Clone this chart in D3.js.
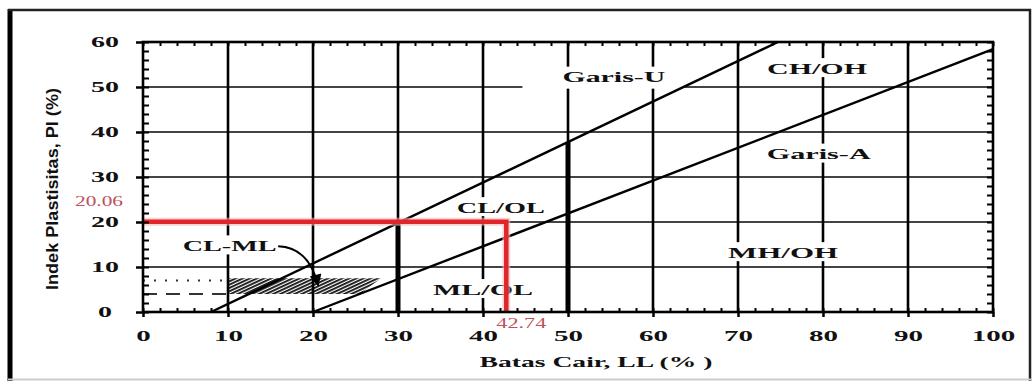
<!DOCTYPE html>
<html>
<head>
<meta charset="utf-8">
<script src="https://cdn.jsdelivr.net/npm/d3@7.9.0/dist/d3.min.js"></script>
<style>
  html, body { margin: 0; padding: 0; background: #fff; }
  svg { display: block; }
  .tick line { stroke: #000; }
  .zone { font-family: "Liberation Serif", "Times New Roman", serif; font-weight: bold; font-size: 15px; fill: #111; }
</style>
</head>
<body>
<svg id="chart" width="1033" height="381"></svg>
<script>
// axis ticks
const llTicks = [0, 10, 20, 30, 40, 50, 60, 70, 80, 90, 100];
const piTicks = [0, 10, 20, 30, 40, 50, 60];
const llMinor = d3.range(0, 101, 2);
const piMinor = d3.range(0, 61, 2);

// Garis-U and Garis-A (end points)
const uLine = [[8, 0], [74.7, 60]];
const aLine = [[20, 0], [100, 58.4]];

// CL-ML zone
const clmlZone = [[10, 4], [10, 7.5], [28, 7.5], [25.5, 4]];
const dottedLine = [[0, 7], [10, 7]];
const dashedLine = [[0, 4], [10, 4]];

// thick boundary segments at LL = 30 and LL = 50
const boundaries = [[[30, 0], [30, 20]], [[50, 0], [50, 37.8]]];

// sample result
const sampleLL = 42.74;
const samplePI = 20.06;

// zone labels: text, LL, PI of label centre, width in px
const zoneLabels = [
  { text: "Garis-U", ll: 55.4, pi: 52.3, w: 103 },
  { text: "CH/OH", ll: 79.3, pi: 54.2, w: 100 },
  { text: "Garis-A", ll: 79.5, pi: 35.2, w: 104 },
  { text: "CL/OL", ll: 42.1, pi: 23.3, w: 88 },
  { text: "CL-ML", ll: 10.2, pi: 14.8, w: 94 },
  { text: "MH/OH", ll: 75.3, pi: 13.3, w: 110 },
  { text: "ML/OL", ll: 40.0, pi: 5.1, w: 100 }
];

const svg = d3.select("#chart");
const x = d3.scaleLinear().domain([0, 100]).range([143, 993]);
const y = d3.scaleLinear().domain([0, 60]).range([312, 42]);
const line = d3.line().x(d => x(d[0])).y(d => y(d[1]));

// outer frame
svg.append("line").attr("x1", 10).attr("x2", 10).attr("y1", 9).attr("y2", 381)
  .attr("stroke", "#000").attr("stroke-width", 5);
svg.append("line").attr("x1", 8).attr("x2", 1031).attr("y1", 10).attr("y2", 10)
  .attr("stroke", "#222").attr("stroke-width", 2.5);
svg.append("line").attr("x1", 1030).attr("x2", 1030).attr("y1", 9).attr("y2", 381)
  .attr("stroke", "#222").attr("stroke-width", 2.5);
svg.append("line").attr("x1", 8).attr("x2", 1031).attr("y1", 379.5).attr("y2", 379.5)
  .attr("stroke", "#ccc").attr("stroke-width", 2);

// hatch pattern
const defs = svg.append("defs");
const pat = defs.append("pattern").attr("id", "hatch").attr("patternUnits", "userSpaceOnUse")
  .attr("width", 3).attr("height", 3).attr("patternTransform", "rotate(65)");
pat.append("rect").attr("width", 3).attr("height", 3).attr("fill", "#fff");
pat.append("line").attr("x1", 0.9).attr("y1", 0).attr("x2", 0.9).attr("y2", 3)
  .attr("stroke", "#111").attr("stroke-width", 1.8);

svg.append("path").datum(clmlZone.concat([clmlZone[0]]))
  .attr("d", line).attr("fill", "url(#hatch)");

// horizontal grid
svg.append("g").selectAll("line").data(piTicks.slice(1, -1)).join("line")
  .attr("x1", x(0)).attr("x2", x(100)).attr("y1", d => y(d)).attr("y2", d => y(d))
  .attr("stroke", "#444").attr("stroke-width", 1.8);

// vertical grid
svg.append("g").selectAll("line").data(llTicks.slice(1, -1)).join("line")
  .attr("x1", d => x(d)).attr("x2", d => x(d)).attr("y1", y(0)).attr("y2", y(60))
  .attr("stroke", "#000").attr("stroke-width", 2.6);

svg.append("g").selectAll("path").data(boundaries).join("path")
  .attr("d", line).attr("stroke", "#000").attr("stroke-width", 5);

// dotted / dashed limits
svg.append("path").datum(dottedLine).attr("d", line).attr("fill", "none")
  .attr("stroke", "#333").attr("stroke-width", 1.8).attr("stroke-dasharray", "2 9");
svg.append("path").datum(dashedLine).attr("d", line).attr("fill", "none")
  .attr("stroke", "#333").attr("stroke-width", 1.8).attr("stroke-dasharray", "14 9");

// zone labels with white backing
const lab = svg.append("g").selectAll("g").data(zoneLabels).join("g");
lab.append("rect")
  .attr("x", d => x(d.ll) - d.w / 2 - (d.text === "Garis-U" ? 40 : 3))
  .attr("y", d => y(d.pi) - 10)
  .attr("width", d => d.w + (d.text === "Garis-U" ? 58 : 6))
  .attr("height", d => d.text === "Garis-U" ? 22 : 19)
  .attr("fill", "#fff");
lab.append("text").attr("class", "zone")
  .attr("x", d => x(d.ll) - d.w / 2).attr("y", d => y(d.pi) + 5.5)
  .attr("textLength", d => d.w).attr("lengthAdjust", "spacingAndGlyphs")
  .text(d => d.text);

// classification lines
svg.append("path").datum(uLine).attr("d", line).attr("fill", "none")
  .attr("stroke", "#000").attr("stroke-width", 2.4);
svg.append("path").datum(aLine).attr("d", line).attr("fill", "none")
  .attr("stroke", "#000").attr("stroke-width", 2.4);

// CL-ML arrow
defs.append("marker").attr("id", "arrow").attr("viewBox", "0 0 10 10")
  .attr("refX", 9).attr("refY", 5).attr("markerWidth", 7).attr("markerHeight", 6)
  .attr("orient", "auto").attr("markerUnits", "strokeWidth")
  .append("path").attr("d", "M0,0 L10,5 L0,10 z").attr("fill", "#000");
const a0 = [15.9, 14.6], a1 = [19.5, 14.4], a2 = [20.6, 5.9];
svg.append("path")
  .attr("d", `M${x(a0[0])},${y(a0[1])} Q${x(a1[0])},${y(a1[1])} ${x(a2[0])},${y(a2[1])}`)
  .attr("fill", "none").attr("stroke", "#000").attr("stroke-width", 2)
  .attr("marker-end", "url(#arrow)");

// sample result lines
const red = svg.append("g");
red.append("path").datum([[0, samplePI], [sampleLL, samplePI], [sampleLL, 0]])
  .attr("d", line).attr("fill", "none").attr("stroke", "#f4b7b7").attr("stroke-width", 8).attr("opacity", 0.6);
red.append("path").datum([[0, samplePI], [sampleLL, samplePI], [sampleLL, 0]])
  .attr("d", line).attr("fill", "none").attr("stroke", "#e0252b").attr("stroke-width", 4.5)
  .attr("stroke-linejoin", "miter");
red.append("text").attr("x", x(0) - 44).attr("y", y(samplePI) - 16)
  .attr("text-anchor", "middle").attr("font-family", "Liberation Serif, serif")
  .attr("font-size", 14).attr("fill", "#c0505a")
  .attr("textLength", 48).attr("lengthAdjust", "spacingAndGlyphs")
  .text(samplePI.toFixed(2));
red.append("text").attr("x", x(sampleLL) + 15).attr("y", y(0) + 16)
  .attr("text-anchor", "middle").attr("font-family", "Liberation Serif, serif")
  .attr("font-size", 14).attr("fill", "#c0505a")
  .attr("textLength", 50).attr("lengthAdjust", "spacingAndGlyphs")
  .text(sampleLL.toFixed(2));

// minor ticks (inside)
svg.append("g").attr("transform", `translate(0,${y(0)})`)
  .call(d3.axisBottom(x).tickValues(llMinor).tickSize(-4).tickFormat(""))
  .call(g => g.select(".domain").remove());
svg.append("g").attr("transform", `translate(0,${y(60)})`)
  .call(d3.axisTop(x).tickValues(llMinor).tickSize(-4).tickFormat(""))
  .call(g => g.select(".domain").remove());
svg.append("g").attr("transform", `translate(${x(0)},0)`)
  .call(d3.axisLeft(y).tickValues(piMinor).tickSize(-6).tickFormat(""))
  .call(g => g.select(".domain").remove());
svg.append("g").attr("transform", `translate(${x(100)},0)`)
  .call(d3.axisRight(y).tickValues(piMinor).tickSize(-6).tickFormat(""))
  .call(g => g.select(".domain").remove());
svg.selectAll(".tick line").attr("stroke-width", 2);

// major axes with labels
const xAxis = svg.append("g").attr("transform", `translate(0,${y(0)})`)
  .call(d3.axisBottom(x).tickValues(llTicks).tickSize(5))
  .call(g => g.select(".domain").remove());
xAxis.selectAll(".tick line").attr("stroke-width", 2.5);
xAxis.selectAll("text").attr("y", 18)
  .attr("font-family", "Liberation Serif, serif").attr("font-weight", "bold")
  .attr("font-size", 15).attr("fill", "#111")
  .attr("textLength", d => String(d).length * 14.5).attr("lengthAdjust", "spacingAndGlyphs");

const yAxis = svg.append("g").attr("transform", `translate(${x(0)},0)`)
  .call(d3.axisLeft(y).tickValues(piTicks).tickSize(7))
  .call(g => g.select(".domain").remove());
yAxis.selectAll(".tick line").attr("stroke-width", 2.5);
yAxis.selectAll("text").attr("x", -38).attr("text-anchor", "middle")
  .attr("font-family", "Liberation Serif, serif").attr("font-weight", "bold")
  .attr("font-size", 15).attr("fill", "#111")
  .attr("textLength", d => String(d).length * 14).attr("lengthAdjust", "spacingAndGlyphs");

// plot frame
svg.append("rect").attr("x", x(0)).attr("y", y(60))
  .attr("width", x(100) - x(0)).attr("height", y(0) - y(60))
  .attr("fill", "none").attr("stroke", "#000").attr("stroke-width", 2.6);

// axis titles
svg.append("text").attr("x", 596).attr("y", 367).attr("text-anchor", "middle")
  .attr("font-family", "Liberation Serif, serif").attr("font-weight", "bold")
  .attr("font-size", 15).attr("fill", "#111")
  .attr("textLength", 233).attr("lengthAdjust", "spacingAndGlyphs")
  .text("Batas Cair, LL (% )");
svg.append("text").attr("transform", "translate(58,189) rotate(-90)")
  .attr("text-anchor", "middle")
  .attr("font-family", "Liberation Sans Narrow, Arial Narrow, sans-serif").attr("font-weight", "bold")
  .attr("font-size", 17).attr("fill", "#111")
  .attr("textLength", 202).attr("lengthAdjust", "spacingAndGlyphs")
  .text("Indek Plastisitas, PI (%)");
</script>
</body>
</html>
